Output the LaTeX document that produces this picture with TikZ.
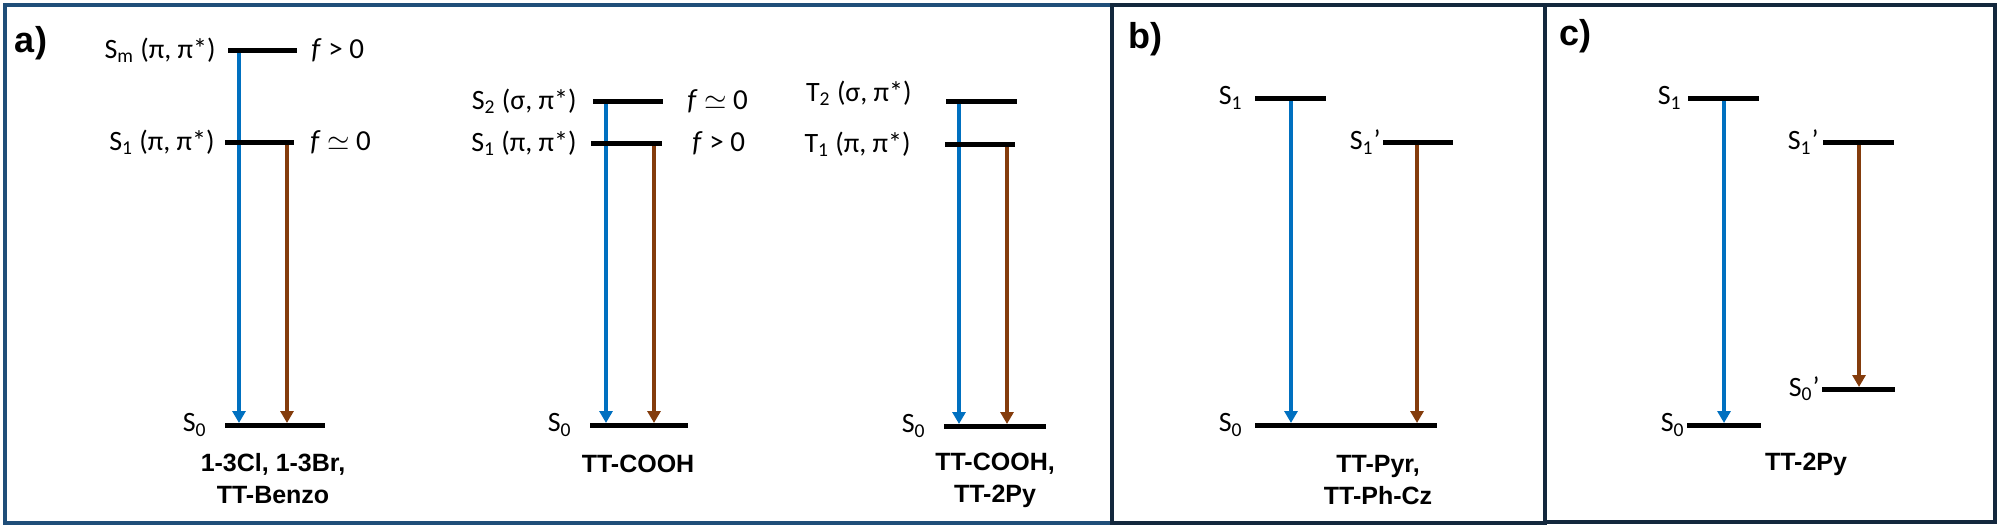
\documentclass[tikz,border=0pt]{standalone}
\usepackage{fontspec}
\setmainfont{Carlito}
\newfontfamily\cmpdfont{Liberation Sans}
\usetikzlibrary{arrows.meta, positioning}
\definecolor{absblue}{HTML}{0070C0}
\definecolor{embrown}{HTML}{843C0C}
\definecolor{frameA}{HTML}{1F4E79}
\definecolor{frameBC}{HTML}{13283D}
\tikzset{
  level/.style={line width=2.5pt},
  statelbl/.style={inner sep=1pt, font=\fontsize{14}{16}\selectfont},
  osclbl/.style={inner sep=1pt, anchor=west, font=\fontsize{14.5}{16}\selectfont},
  absarrow/.style={absblue, line width=1.7pt, -{Triangle[length=6pt,width=6.5pt]}, shorten >=1pt},
  emarrow/.style={embrown, line width=1.7pt, -{Triangle[length=6pt,width=6.5pt]}, shorten >=1pt},
  compound/.style={align=center, font=\cmpdfont\bfseries\fontsize{12.5}{16}\selectfont},
  panellbl/.style={font=\cmpdfont\bfseries\fontsize{18}{20}\selectfont}
}

\begin{document}
\begin{tikzpicture}[x=0.5pt, y=0.5pt]
\useasboundingbox (0,0) rectangle (2000,-530);
% frames
\draw[frameA, line width=2pt] (5,-5) rectangle (1112,-523);
\draw[frameBC, line width=2pt] (1112,-5) rectangle (1545,-523);
\draw[frameBC, line width=2pt] (1545,-5) rectangle (1995,-522);
\node[panellbl] (pa) at (31,-43) {a)};
\node[panellbl] (pb) at (1145,-39) {b)};
\node[panellbl] (pc) at (1575,-36) {c)};

% a) 1-3Cl, 1-3Br, TT-Benzo
\coordinate (aSmL) at (228,-50);  \coordinate (aSmR) at (297,-50);
\coordinate (aS1L) at (225,-142); \coordinate (aS1R) at (294,-142);
\coordinate (aS0L) at (225,-425); \coordinate (aS0R) at (325,-425);
\coordinate (aBlue) at (239,-50);
\coordinate (aBrown) at (287,-142);
\draw[absarrow] (aBlue) -- (aBlue |- aS0L);
\draw[emarrow] (aBrown) -- (aBrown |- aS0L);
\draw[level] (aSmL) -- (aSmR);
\draw[level] (aS1L) -- (aS1R);
\draw[level] (aS0L) -- (aS0R);
\node[statelbl, left=5pt of aSmL] (aSmLbl) {S\textsubscript{m} (π, π*)};
\node[statelbl, left=4pt of aS1L] (aS1Lbl) {S\textsubscript{1} (π, π*)};
\node[statelbl, left=8pt of aS0L] (aS0Lbl) {S\textsubscript{0}};
\node[osclbl, right=6pt of aSmR] (aSmOsc) {\textit{f} > 0};
\node[osclbl, right=7pt of aS1R] (aS1Osc) {\textit{f} $\simeq$ 0};
\node[compound] (aCmpd) at (273,-479) {1-3Cl, 1-3Br,\\TT-Benzo};

% a) TT-COOH singlets
\coordinate (mS2L) at (593,-101); \coordinate (mS2R) at (663,-101);
\coordinate (mS1L) at (591,-143); \coordinate (mS1R) at (662,-143);
\coordinate (mS0L) at (590,-425); \coordinate (mS0R) at (688,-425);
\coordinate (mBlue) at (606,-101);
\coordinate (mBrown) at (654,-143);
\draw[absarrow] (mBlue) -- (mBlue |- mS0L);
\draw[emarrow] (mBrown) -- (mBrown |- mS0L);
\draw[level] (mS2L) -- (mS2R);
\draw[level] (mS1L) -- (mS1R);
\draw[level] (mS0L) -- (mS0R);
\node[statelbl, left=7pt of mS2L] (mS2Lbl) {S\textsubscript{2} (σ, π*)};
\node[statelbl, left=6pt of mS1L] (mS1Lbl) {S\textsubscript{1} (π, π*)};
\node[statelbl, left=8pt of mS0L] (mS0Lbl) {S\textsubscript{0}};
\node[osclbl, right=11pt of mS2R] (mS2Osc) {\textit{f} $\simeq$ 0};
\node[osclbl, right=14pt of mS1R] (mS1Osc) {\textit{f} > 0};
\node[compound] (mCmpd) at (638,-464) {TT-COOH};

% a) triplets
\coordinate (tT2L) at (946,-101); \coordinate (tT2R) at (1017,-101);
\coordinate (tT1L) at (945,-144); \coordinate (tT1R) at (1015,-144);
\coordinate (tS0L) at (944,-426); \coordinate (tS0R) at (1046,-426);
\coordinate (tBlue) at (959,-101);
\coordinate (tBrown) at (1007,-144);
\draw[absarrow] (tBlue) -- (tBlue |- tS0L);
\draw[emarrow] (tBrown) -- (tBrown |- tS0L);
\draw[level] (tT2L) -- (tT2R);
\draw[level] (tT1L) -- (tT1R);
\draw[level] (tS0L) -- (tS0R);
\node[statelbl, left=16pt of tT2L, yshift=4pt] (tT2Lbl) {T\textsubscript{2} (σ, π*)};
\node[statelbl, left=16pt of tT1L] (tT1Lbl) {T\textsubscript{1} (π, π*)};
\node[statelbl, left=8pt of tS0L] (tS0Lbl) {S\textsubscript{0}};
\node[compound] (tCmpd) at (995,-480) {TT-COOH,\\TT-2Py};

% b)
\coordinate (bS1L) at (1255,-98);  \coordinate (bS1R) at (1326,-98);
\coordinate (bS1pL) at (1383,-142); \coordinate (bS1pR) at (1453,-142);
\coordinate (bS0L) at (1255,-425); \coordinate (bS0R) at (1437,-425);
\coordinate (bBlue) at (1291,-98);
\coordinate (bBrown) at (1417,-142);
\draw[absarrow] (bBlue) -- (bBlue |- bS0L);
\draw[emarrow] (bBrown) -- (bBrown |- bS0L);
\draw[level] (bS1L) -- (bS1R);
\draw[level] (bS1pL) -- (bS1pR);
\draw[level] (bS0L) -- (bS0R);
\node[statelbl, left=5pt of bS1L] (bS1Lbl) {S\textsubscript{1}};
\node[statelbl, left=0pt of bS1pL] (bS1pLbl) {S\textsubscript{1}’};
\node[statelbl, left=5pt of bS0L] (bS0Lbl) {S\textsubscript{0}};
\node[compound] (bCmpd) at (1378,-480) {TT-Pyr,\\TT-Ph-Cz};

% c)
\coordinate (cS1L) at (1688,-98);  \coordinate (cS1R) at (1759,-98);
\coordinate (cS1pL) at (1823,-142); \coordinate (cS1pR) at (1894,-142);
\coordinate (cS0pL) at (1822,-389); \coordinate (cS0pR) at (1895,-389);
\coordinate (cS0L) at (1687,-425); \coordinate (cS0R) at (1761,-425);
\coordinate (cBlue) at (1724,-98);
\coordinate (cBrown) at (1859,-142);
\draw[absarrow] (cBlue) -- (cBlue |- cS0L);
\draw[emarrow] (cBrown) -- (cBrown |- cS0pL);
\draw[level] (cS1L) -- (cS1R);
\draw[level] (cS1pL) -- (cS1pR);
\draw[level] (cS0pL) -- (cS0pR);
\draw[level] (cS0L) -- (cS0R);
\node[statelbl, left=2pt of cS1L] (cS1Lbl) {S\textsubscript{1}};
\node[statelbl, left=1pt of cS1pL] (cS1pLbl) {S\textsubscript{1}’};
\node[statelbl, left=0pt of cS0pL] (cS0pLbl) {S\textsubscript{0}’};
\node[statelbl, left=0pt of cS0L] (cS0Lbl) {S\textsubscript{0}};
\node[compound] (cCmpd) at (1806,-464) {TT-2Py};
\end{tikzpicture}
\end{document}
